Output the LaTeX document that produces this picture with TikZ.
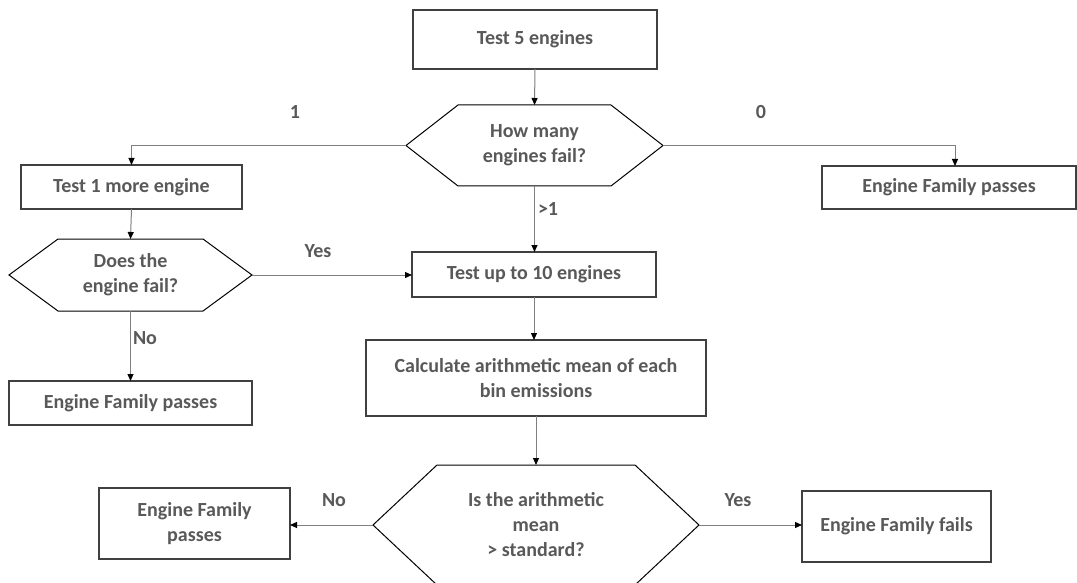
\documentclass[tikz,border=0pt]{standalone}
\usepackage{fontspec}
\setmainfont{Carlito}
\usetikzlibrary{arrows.meta}
\definecolor{txt}{HTML}{595959}
\definecolor{conn}{HTML}{7F7F7F}
\definecolor{boxline}{HTML}{404040}
\begin{document}
\begin{tikzpicture}[x=1pt,y=-1pt,
  every node/.style={font=\fontsize{20}{25}\selectfont\bfseries, text=txt, inner sep=0pt, outer sep=0pt},
  box/.style={draw=boxline, line width=1.1pt, rectangle, align=center},
  hextext/.style={rectangle, align=center},
  hexline/.style={draw=black, line width=1pt, line join=miter},
  connector/.style={draw=conn, line width=1pt, -{Triangle[length=7pt,width=6pt,color=black,fill=black]}},
  lbl/.style={}
]
\fill[white] (0,0) rectangle (1077,583);
\clip (0,0) rectangle (1077,583);

% boxes
\node[box, minimum width=244pt, minimum height=59pt] (t5) at (535,39.5) {Test 5 engines};
\node[hextext, minimum width=257pt, minimum height=81pt] (h1) at (534.5,145.5) {How many\\engines fail?};
\draw[hexline] (h1.west) -- ([xshift=52pt]h1.north west) -- ([xshift=-52pt]h1.north east) -- (h1.east) -- ([xshift=-52pt]h1.south east) -- ([xshift=52pt]h1.south west) -- cycle;

\node[box, minimum width=221pt, minimum height=44pt] (t1) at (131.5,187) {Test 1 more engine};
\node[box, minimum width=254pt, minimum height=43pt] (p1) at (949,187.5) {Engine Family passes};

\node[hextext, minimum width=243pt, minimum height=72pt] (h2) at (130.5,275) {Does the\\engine fail?};
\draw[hexline] (h2.west) -- ([xshift=49pt]h2.north west) -- ([xshift=-49pt]h2.north east) -- (h2.east) -- ([xshift=-49pt]h2.south east) -- ([xshift=49pt]h2.south west) -- cycle;

\node[box, minimum width=244pt, minimum height=45pt] (t10) at (534,274.5) {Test up to 10 engines};
\node[box, minimum width=243pt, minimum height=44pt] (p2) at (130.5,403) {Engine Family passes};
\node[box, minimum width=340pt, minimum height=76pt] (calc) at (536,378) {Calculate arithmetic mean of each\\bin emissions};

\node[hextext, minimum width=326pt, minimum height=120pt] (h3) at (536,525) {Is the arithmetic\\mean\\> standard?};
\draw[hexline] (h3.west) -- ([xshift=64pt]h3.north west) -- ([xshift=-64pt]h3.north east) -- (h3.east) -- ([xshift=-64pt]h3.south east) -- ([xshift=64pt]h3.south west) -- cycle;

\node[box, minimum width=191pt, minimum height=71pt] (p3) at (194.5,523.5) {Engine Family\\passes};
\node[box, minimum width=189pt, minimum height=71pt] (fails) at (896.5,526.5) {Engine Family fails};

% connectors
\draw[connector] (t5.south) -- (h1.north);
\draw[connector] (h1.west) -| (t1.north);
\coordinate (p1in) at ([xshift=6pt]p1.north);
\draw[connector] (h1.east) -| (p1in);
\draw[connector] (h1.south) -- (h1.south |- t10.north);
\draw[connector] (t1.south) -- (h2.north);
\draw[connector] (h2.east) -- (h2.east -| t10.west);
\draw[connector] (h2.south) -- (p2.north);
\draw[connector] (t10.south) -- (t10.south |- calc.north);
\draw[connector] (calc.south) -- (h3.north);
\draw[connector] (h3.west) -- (h3.west -| p3.east);
\draw[connector] (h3.east) -- (h3.east -| fails.west);

% labels
\node[lbl] (l1) at (295,112) {1};
\node[lbl] (l0) at (761,112) {0};
\node[lbl, anchor=west] (lg1) at (538,209) {>1};
\node[lbl] (ly1) at (318,251) {Yes};
\node[lbl, anchor=west] (ln1) at (133,338) {No};
\node[lbl] (ln2) at (334,500) {No};
\node[lbl] (ly2) at (738,500) {Yes};
\end{tikzpicture}
\end{document}
